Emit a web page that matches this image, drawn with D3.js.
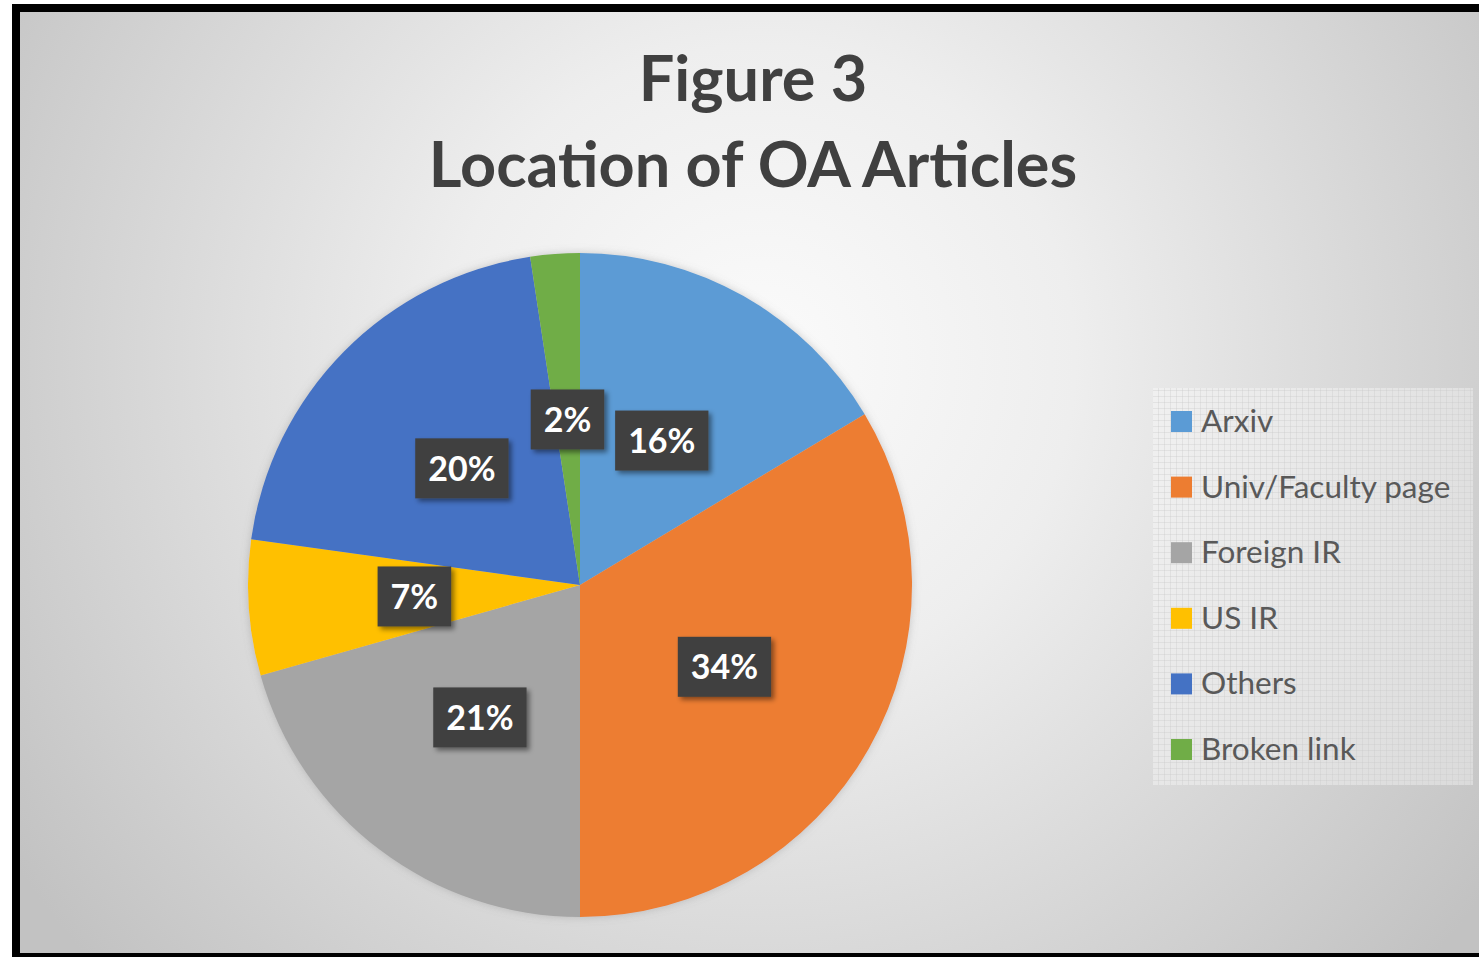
<!DOCTYPE html>
<html>
<head>
<meta charset="utf-8">
<script src="https://cdn.jsdelivr.net/npm/d3@7"></script>
<style>
  html, body { margin: 0; padding: 0; background: #ffffff; }
  svg { display: block; }
</style>
</head>
<body>
<svg id="chart" width="1479" height="957"></svg>
<script>
const categories = ["Arxiv", "Univ/Faculty page", "Foreign IR", "US IR", "Others", "Broken link"];
const values = [16.4, 33.6, 20.6, 6.6, 20.4, 2.4];
const colors = ["#5B9BD5", "#ED7D31", "#A5A5A5", "#FFC000", "#4472C4", "#70AD47"];
const titleLines = ["Figure 3", "Location of OA Articles"];

const W = 1479, H = 957;
const svg = d3.select("#chart");
const defs = svg.append("defs");

// background gradient
const rg = defs.append("radialGradient").attr("id", "bg")
  .attr("gradientUnits", "userSpaceOnUse")
  .attr("cx", 760).attr("cy", 360).attr("r", 900);
rg.append("stop").attr("offset", "0%").attr("stop-color", "#fbfbfb");
rg.append("stop").attr("offset", "35%").attr("stop-color", "#eeeeee");
rg.append("stop").attr("offset", "100%").attr("stop-color", "#c2c2c2");

// legend grid pattern
const pat = defs.append("pattern").attr("id", "grid")
  .attr("patternUnits", "userSpaceOnUse").attr("width", 6).attr("height", 6);
pat.append("rect").attr("width", 6).attr("height", 6).attr("fill", "rgba(255,255,255,0.35)");
pat.append("path").attr("d", "M0,0.5H6M0.5,0V6").attr("stroke", "rgba(200,200,200,0.35)").attr("stroke-width", 1);

// shadows
const sh = defs.append("filter").attr("id", "lblshadow").attr("x", "-30%").attr("y", "-30%").attr("width", "170%").attr("height", "170%");
sh.append("feDropShadow").attr("dx", 3).attr("dy", 3).attr("stdDeviation", 2.5).attr("flood-color", "#000").attr("flood-opacity", 0.45);
const ps = defs.append("filter").attr("id", "pieshadow").attr("x", "-10%").attr("y", "-10%").attr("width", "120%").attr("height", "120%");
ps.append("feDropShadow").attr("dx", 0).attr("dy", 0).attr("stdDeviation", 4).attr("flood-color", "#777").attr("flood-opacity", 0.35);

// frame
svg.append("rect").attr("x", 0).attr("y", 0).attr("width", W).attr("height", H).attr("fill", "#ffffff");
svg.append("rect").attr("x", 12).attr("y", 4).attr("width", W + 20).attr("height", 953).attr("fill", "#000");
svg.append("rect").attr("x", 20).attr("y", 12).attr("width", W).attr("height", 941).attr("fill", "url(#bg)");

// title
const title = svg.append("g").attr("font-family", "Lato, 'Open Sans', sans-serif")
  .attr("font-weight", "bold").attr("fill", "#404040").attr("text-anchor", "middle");
title.selectAll("text").data(titleLines).join("text")
  .attr("x", 753)
  .attr("y", (d, i) => 101 + i * 86)
  .attr("font-size", 63)
  .text(d => d);

// pie
const cx = 580, cy = 585, R = 332;
const pie = d3.pie().sort(null).value(d => d.v);
const data = pie(categories.map((c, i) => ({ c, v: values[i], col: colors[i] })));
const arc = d3.arc().innerRadius(0).outerRadius(R);
const labelArc = d3.arc().innerRadius(0).outerRadius(R);

const g = svg.append("g").attr("transform", `translate(${cx},${cy})`);
g.append("g").attr("filter", "url(#pieshadow)")
  .selectAll("path").data(data).join("path")
  .attr("d", arc)
  .attr("fill", d => d.data.col);

// labels
const lbl = g.append("g").selectAll("g").data(data).join("g")
  .attr("transform", d => { const [x, y] = labelArc.centroid(d); return `translate(${x},${y})`; });
lbl.append("text")
  .attr("class", "t")
  .attr("text-anchor", "middle")
  .attr("dy", "0.36em")
  .attr("font-family", "Lato, 'Open Sans', sans-serif")
  .attr("font-weight", "bold")
  .attr("font-size", 34)
  .attr("fill", "#ffffff")
  .text(d => Math.round(d.data.v) + "%");
lbl.each(function() {
  const gg = d3.select(this);
  const t = gg.select("text").node();
  const w = t.getComputedTextLength();
  gg.insert("rect", "text")
    .attr("x", -w / 2 - 13).attr("y", -30)
    .attr("width", w + 26).attr("height", 60)
    .attr("fill", "#404040")
    .attr("filter", "url(#lblshadow)");
});

// legend
const lg = svg.append("g");
lg.append("rect").attr("x", 1153).attr("y", 388).attr("width", 320).attr("height", 397)
  .attr("fill", "url(#grid)");
const ly = d3.scalePoint().domain(categories).range([421, 749]);
const items = lg.selectAll("g.item").data(categories).join("g").attr("class", "item")
  .attr("transform", d => `translate(1171,${ly(d)})`);
items.append("rect").attr("x", 0).attr("y", -10).attr("width", 21).attr("height", 21)
  .attr("fill", (d, i) => colors[i]);
items.append("text").attr("x", 30).attr("y", 0).attr("dy", "0.35em")
  .attr("font-family", "Lato, 'Open Sans', sans-serif")
  .attr("font-size", 31.5).attr("fill", "#595959")
  .text(d => d);
</script>
</body>
</html>
